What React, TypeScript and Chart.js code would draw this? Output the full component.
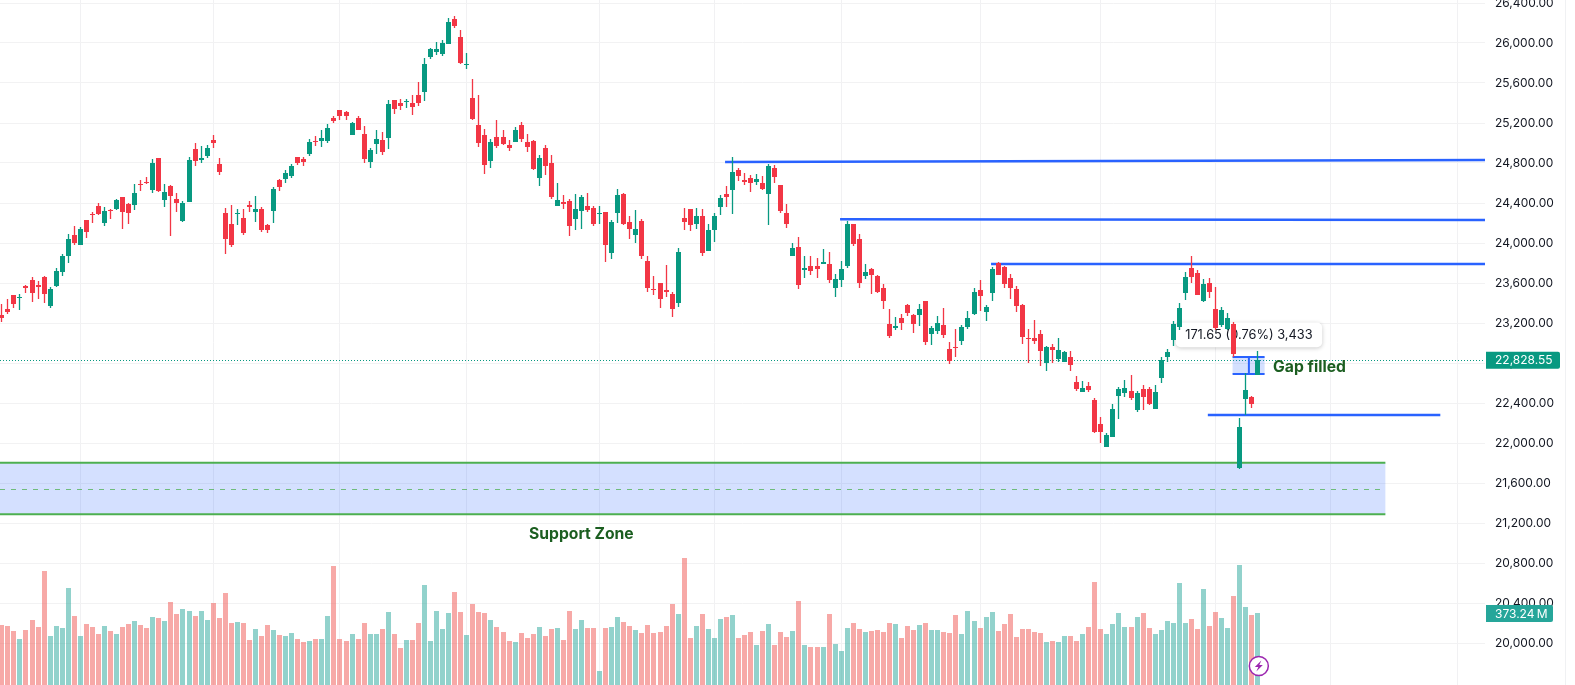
import React, { useEffect, useRef } from "react";
import { Chart, registerables } from "chart.js";

Chart.register(...registerables);

const opens = [
  23280,23340,23480,23450,23570,23630,23580,23660,23370,23570,
  23710,23870,24080,23980,24230,24290,24370,24200,24330,24340,
  24460,24390,24380,24590,24610,24530,24850,24430,24570,24440,
  24220,24410,24940,24830,24870,25030,24790,24300,24190,24290,
  24250,24380,24310,24340,24180,24320,24630,24640,24670,24860,
  24840,24890,25020,25020,25020,25250,25330,25310,25080,25250,
  25090,24810,24990,25030,25050,25430,25400,25410,25400,25480,
  25510,25860,25910,25890,25990,26240,26060,25780,25450,25180,
  25080,24820,25060,25060,24980,25010,25180,25010,25020,24650,
  24950,24800,24370,24410,24420,24240,24320,24370,24350,24290,
  24310,23900,24300,24490,24210,24080,24220,23820,23540,23600,
  23530,23490,23400,24250,24340,24190,24270,23920,24130,24360,
  24490,24530,24730,24630,24650,24610,24600,24490,24750,24580,
  24300,23870,23960,23730,23770,23770,23790,23790,23550,23630,
  23770,24190,24040,23670,23740,23670,23550,23190,23150,23250,
  23380,23280,23280,23420,23090,23120,23180,22940,22960,23020,
  23160,23290,23530,23310,23500,23800,23760,23650,23540,23380,
  23050,23050,23090,22800,22960,22840,22810,22860,22610,22510,
  22570,22430,22190,21960,22060,22470,22500,22520,22330,22540,
  22540,22340,22650,22860,23030,23160,23500,23750,23700,23420,
  23600,23340,23180,23140,23190,21750,22440,22460,22680,
];
const closes = [
  23250,23310,23390,23460,23550,23500,23560,23490,23540,23720,
  23870,24040,24000,24140,24110,24280,24290,24320,24320,24430,
  24310,24300,24500,24580,24600,24800,24520,24510,24470,24400,
  24400,24830,24820,24850,24950,25000,24710,24040,23980,24300,
  24100,24360,24340,24130,24130,24540,24560,24700,24770,24800,
  24810,25010,25010,25050,25150,25220,25270,25270,25200,25130,
  24840,24930,25040,24910,25390,25340,25370,25420,25360,25400,
  25790,25940,25940,26000,26210,26170,25800,25790,25240,25000,
  24780,25010,24970,24990,24950,25130,25040,24960,24740,24850,
  24770,24460,24430,24390,24170,24340,24460,24330,24190,24300,
  23980,24210,24480,24190,24140,24140,23870,23550,23530,23440,
  23510,23340,23910,24210,24180,24270,23900,24130,24270,24450,
  24460,24710,24670,24610,24600,24640,24540,24770,24660,24320,
  24190,23950,23580,23750,23720,23740,23810,23630,23640,23740,
  24190,23990,23600,23710,23680,23510,23420,23070,23170,23200,
  23300,23190,23340,23010,23150,23200,23080,22820,22950,23160,
  23250,23510,23470,23360,23740,23680,23590,23550,23370,23060,
  23040,23020,22920,22960,22930,22930,22910,22780,22540,22550,
  22530,22110,22110,22080,22340,22540,22550,22450,22500,22460,
  22390,22510,22830,22910,23190,23350,23660,23660,23480,23590,
  23510,23150,23330,23250,22890,22160,22530,22390,22828.55,
];
const highs = [
  23390,23440,23480,23490,23580,23660,23620,23670,23560,23750,
  23890,24090,24170,24160,24230,24310,24400,24360,24340,24440,
  24460,24400,24590,24630,24660,24840,24850,24590,24580,24500,
  24420,24860,25000,24970,24980,25080,24850,24350,24380,24340,
  24340,24420,24470,24360,24190,24560,24640,24730,24790,24860,
  24860,25040,25070,25130,25190,25270,25330,25320,25210,25270,
  25170,24950,25130,25110,25430,25430,25440,25440,25480,25610,
  25850,25950,26010,26030,26250,26270,26130,25900,25640,25480,
  25140,25040,25230,25130,25030,25160,25210,25090,25030,24880,
  24980,24880,24600,24480,24440,24490,24480,24500,24370,24370,
  24310,24230,24540,24500,24270,24330,24240,23870,23670,23600,
  23780,23510,23950,24350,24340,24350,24340,24190,24300,24480,
  24570,24860,24750,24700,24680,24690,24670,24790,24780,24580,
  24390,24000,24060,23870,23870,23850,23940,23910,23690,23820,
  24220,24190,24090,23790,23750,23680,23590,23340,23260,23290,
  23390,23290,23390,23420,23170,23270,23350,23010,23140,23180,
  23320,23550,23630,23380,23760,23810,23770,23690,23570,23390,
  23140,23230,23130,22970,22990,23050,22920,22920,22670,22620,
  22610,22450,22260,22100,22390,22560,22630,22680,22520,22580,
  22560,22580,22860,22940,23220,23400,23710,23870,23730,23640,
  23650,23560,23360,23300,23210,22250,22700,22470,22920,
];
const lows = [
  23210,23290,23350,23330,23500,23410,23440,23400,23350,23560,
  23670,23800,23980,23980,24050,24200,24280,24170,24240,24330,
  24140,24190,24330,24520,24590,24500,24510,24360,24070,24310,
  24210,24410,24770,24800,24850,24950,24680,23890,23960,24180,
  24080,24310,24210,24110,24100,24200,24520,24600,24650,24780,
  24770,24870,24970,24960,25000,25200,25230,25230,25080,25130,
  24800,24750,24890,24880,24940,25290,25330,25350,25280,25370,
  25420,25840,25880,25870,25990,26150,25790,25740,25230,24960,
  24690,24750,24950,24980,24920,25010,25010,24910,24730,24570,
  24680,24440,24370,24340,24070,24130,24140,24310,24170,24190,
  23810,23840,24200,24180,24040,24000,23840,23510,23480,23350,
  23460,23260,23360,24130,24120,24140,23870,23920,24010,24280,
  24360,24290,24620,24580,24510,24580,24530,24180,24600,24300,
  24150,23870,23540,23650,23680,23650,23790,23600,23460,23560,
  23750,23970,23550,23640,23490,23500,23340,23050,23130,23130,
  23270,23100,23170,22980,22980,23090,23050,22790,22860,22980,
  23140,23280,23320,23220,23420,23680,23550,23440,23310,22990,
  22800,22990,22770,22720,22800,22810,22810,22720,22520,22510,
  22510,22100,22000,21960,22060,22240,22460,22430,22310,22330,
  22380,22340,22600,22810,22970,23130,23430,23600,23480,23410,
  23450,23130,23160,23130,22860,21740,22280,22350,22680,
];
const volumes = [
  311,306,280,239,285,337,301,591,254,306,
  296,503,358,254,316,301,265,306,280,265,
  301,316,332,311,296,353,347,332,430,368,
  394,384,358,384,337,425,347,477,322,327,
  322,233,290,254,311,285,259,254,270,239,
  223,228,239,239,358,617,239,228,265,239,
  322,265,265,290,379,265,192,233,233,322,
  519,228,384,290,373,482,379,259,420,379,
  373,337,301,275,228,223,270,244,265,301,
  254,290,296,233,384,290,337,296,296,73,
  296,301,353,327,306,285,270,311,270,275,
  306,420,368,659,244,306,368,290,244,342,
  353,363,244,259,275,208,280,316,208,275,
  249,280,436,208,197,197,197,368,213,176,
  296,322,290,275,280,285,275,322,316,244,
  306,285,311,322,285,285,275,270,363,265,
  384,332,296,353,379,280,316,368,249,290,
  290,275,270,223,228,223,254,254,228,265,
  301,534,290,265,316,373,301,301,353,373,
  296,265,285,332,322,529,322,342,290,498,
  306,379,347,296,462,622,405,363,373.24,
];

const priceTicks = [20000,20400,20800,21200,21600,22000,22400,22800,23200,23600,24000,24400,24800,25200,25600,26000,26400];
const gridIndexes = [13,35,56,77,99,118,139,162,182,201,220,241];

const priceMin = 19580;
const priceMax = 26430;
const indexMin = -0.3;
const indexMax = 245.62;
const volumeMax = 3551;
const lastPrice = 22828.55;
const lastVolume = 373.24;

// Trend lines: [start index, start price, end index, end price]
const blueLines = [
  [119.77, 24810, 245.62, 24830],
  [138.82, 24237, 245.62, 24230],
  [163.82, 23790, 245.62, 23790],
  [199.72, 22280, 238.22, 22280],
];
const zoneStart = -0.3, zoneEnd = 229.12;
const zoneTop = 21803, zoneMid = 21545, zoneBottom = 21287;
const gapStart = 203.82, gapEnd = 209.12, gapMid = 206.52;
const gapTop = 22860, gapBottom = 22690;
const measureText = "171.65 (0.76%) 3,433";
const measureTop = 23205, measureBottom = 22958;
const gapLabel = "Gap filled";
const gapLabelAt = [210.52, 22753];
const zoneLabel = "Support Zone";
const zoneLabelAt = [87.3, 21090];

const RED = "#f23645";
const GREEN = "#089981";
const VOL_RED = "rgba(239,83,80,0.5)";
const VOL_GREEN = "rgba(38,166,154,0.5)";
const BLUE = "#2962ff";
const FONT = "Inter, Roboto, sans-serif";

const idx = opens.map((_, i) => i);
const isUp = idx.map((i) => closes[i] >= opens[i]);

const snapPlugin = {
  id: "snap",
  afterDatasetsUpdate(chart: any) {
    chart.data.datasets.forEach((_: any, d: number) => {
      chart.getDatasetMeta(d).data.forEach((el: any) => {
        el.x = Math.round(el.x - 0.5) + 0.5;
        el.y = Math.round(el.y);
        el.base = Math.round(el.base);
        if (el.y === el.base) el.base = el.y + 1;
      });
    });
  },
};

const annotationPlugin = {
  id: "annot",
  beforeDatasetsDraw(chart: any) {
    const { ctx, scales, chartArea } = chart;
    const X = (v: number) => scales.x.getPixelForValue(v);
    const Y = (v: number) => scales.y.getPixelForValue(v);
    ctx.save();

    // last price line
    ctx.strokeStyle = GREEN;
    ctx.lineWidth = 1;
    ctx.setLineDash([1, 2]);
    ctx.beginPath();
    ctx.moveTo(chartArea.left, Math.round(Y(lastPrice)) + 0.5);
    ctx.lineTo(chartArea.right, Math.round(Y(lastPrice)) + 0.5);
    ctx.stroke();
    ctx.setLineDash([]);

    // support zone
    ctx.fillStyle = "rgba(41,98,255,0.2)";
    ctx.fillRect(X(zoneStart), Y(zoneTop), X(zoneEnd) - X(zoneStart), Y(zoneBottom) - Y(zoneTop));
    ctx.strokeStyle = "#4caf50";
    ctx.lineWidth = 2;
    [zoneTop, zoneBottom].forEach((v) => {
      ctx.beginPath();
      ctx.moveTo(X(zoneStart), Y(v));
      ctx.lineTo(X(zoneEnd), Y(v));
      ctx.stroke();
    });
    ctx.lineWidth = 1;
    ctx.strokeStyle = "rgba(76,175,80,0.75)";
    ctx.setLineDash([5, 6]);
    ctx.beginPath();
    ctx.moveTo(X(zoneStart), Math.round(Y(zoneMid)) + 0.5);
    ctx.lineTo(X(zoneEnd), Math.round(Y(zoneMid)) + 0.5);
    ctx.stroke();
    ctx.setLineDash([]);

    // trend lines
    ctx.strokeStyle = BLUE;
    ctx.lineWidth = 2.4;
    blueLines.forEach(([a, b, c, d]) => {
      ctx.beginPath();
      ctx.moveTo(X(a), Y(b));
      ctx.lineTo(X(c), Y(d));
      ctx.stroke();
    });

    // measure box
    ctx.fillStyle = "rgba(41,98,255,0.2)";
    ctx.fillRect(X(gapStart), Y(gapTop), X(gapEnd) - X(gapStart), Y(gapBottom) - Y(gapTop));
    ctx.lineWidth = 2;
    [gapTop, gapBottom].forEach((v) => {
      ctx.beginPath();
      ctx.moveTo(X(gapStart), Y(v));
      ctx.lineTo(X(gapEnd), Y(v));
      ctx.stroke();
    });
    ctx.beginPath();
    ctx.moveTo(X(gapMid), Y(gapTop));
    ctx.lineTo(X(gapMid), Y(gapBottom));
    ctx.stroke();

    // measure label
    ctx.font = `12.8px ${FONT}`;
    const w = ctx.measureText(measureText).width + 19;
    const left = X(gapMid) - w / 2;
    ctx.save();
    ctx.shadowColor = "rgba(0,0,0,0.22)";
    ctx.shadowBlur = 4;
    ctx.shadowOffsetY = 1;
    ctx.fillStyle = "#ffffff";
    ctx.beginPath();
    ctx.roundRect(left, Y(measureTop), w, Y(measureBottom) - Y(measureTop), 5);
    ctx.fill();
    ctx.restore();
    ctx.fillStyle = "#131722";
    ctx.textAlign = "left";
    ctx.textBaseline = "middle";
    ctx.fillText(measureText, left + 9.5, (Y(measureTop) + Y(measureBottom)) / 2 + 0.5);

    // labels
    ctx.fillStyle = "#1b5e20";
    ctx.font = `bold 15.7px ${FONT}`;
    ctx.fillText(gapLabel, X(gapLabelAt[0]), Y(gapLabelAt[1]));
    ctx.fillText(zoneLabel, X(zoneLabelAt[0]), Y(zoneLabelAt[1]));
    ctx.restore();
  },
  afterDraw(chart: any) {
    const { ctx, scales, chartArea, width, height } = chart;
    const Y = (v: number) => scales.y.getPixelForValue(v);
    const Yv = (v: number) => scales.y2.getPixelForValue(v);
    const lastX = scales.x.getPixelForValue(idx[idx.length - 1]);
    ctx.save();

    // axis outer border
    ctx.fillStyle = "#f0f1f3";
    ctx.fillRect(width - 10, 0, 1, height);

    const tag = (cy: number, w: number, color: string, text: string) => {
      ctx.fillStyle = color;
      ctx.beginPath();
      ctx.roundRect(chartArea.right + 1, cy - 8.5, w, 17, [0, 2, 2, 0]);
      ctx.fill();
      ctx.fillStyle = "#ffffff";
      ctx.font = `12px ${FONT}`;
      ctx.textAlign = "left";
      ctx.textBaseline = "middle";
      ctx.fillText(text, chartArea.right + 10, cy + 0.5);
    };
    tag(Y(lastPrice), 74, GREEN, lastPrice.toLocaleString("en-US"));
    tag(Yv(lastVolume) + 0.5, 67, "#26a69a", `${lastVolume}\u2009M`);

    // lightning icon
    const cx = lastX + 1;
    const cy = chartArea.bottom - 19;
    ctx.beginPath();
    ctx.arc(cx, cy, 9.5, 0, Math.PI * 2);
    ctx.fillStyle = "#ffffff";
    ctx.fill();
    ctx.lineWidth = 1.5;
    ctx.strokeStyle = "#9c27b0";
    ctx.stroke();
    ctx.fillStyle = "#9c27b0";
    ctx.beginPath();
    ctx.moveTo(cx + 2.5, cy - 5.5);
    ctx.lineTo(cx - 4, cy + 1);
    ctx.lineTo(cx - 0.5, cy + 1);
    ctx.lineTo(cx - 2.5, cy + 5.5);
    ctx.lineTo(cx + 4, cy - 1);
    ctx.lineTo(cx + 0.5, cy - 1);
    ctx.closePath();
    ctx.fill();
    ctx.restore();
  },
};

export default function App() {
  const ref = useRef<HTMLCanvasElement>(null);
  useEffect(() => {
    const chart = new Chart(ref.current as HTMLCanvasElement, {
      type: "bar",
      data: {
        datasets: [
          {
            label: "Body",
            data: idx.map((i) => ({ x: i, y: [opens[i], closes[i]] })),
            backgroundColor: idx.map((i) => (isUp[i] ? GREEN : RED)),
            barThickness: 5,
            grouped: false,
            borderWidth: 0,
            inflateAmount: 0,
            yAxisID: "y",
          },
          {
            label: "Wick",
            data: idx.map((i) => ({ x: i, y: [lows[i], highs[i]] })),
            backgroundColor: idx.map((i) => (isUp[i] ? GREEN : RED)),
            barThickness: 1.3,
            grouped: false,
            borderWidth: 0,
            inflateAmount: 0,
            yAxisID: "y",
          },
          {
            label: "Volume",
            data: idx.map((i) => ({ x: i, y: volumes[i] })),
            backgroundColor: idx.map((i) => (isUp[i] ? VOL_GREEN : VOL_RED)),
            barThickness: 5,
            grouped: false,
            borderWidth: 0,
            inflateAmount: 0,
            yAxisID: "y2",
          },
        ],
      } as any,
      options: {
        responsive: false,
        devicePixelRatio: 1,
        animation: false,
        layout: { padding: 0 },
        events: [],
        plugins: { legend: { display: false }, tooltip: { enabled: false } },
        scales: {
          x: {
            type: "linear",
            min: indexMin,
            max: indexMax,
            offset: false,
            border: { display: false },
            grid: { color: "#f1f1f3", offset: false, drawTicks: false, lineWidth: 1 },
            ticks: { display: false, autoSkip: false },
            afterBuildTicks: (s: any) => {
              s.ticks = gridIndexes.map((value) => ({ value }));
            },
            afterFit: (s: any) => {
              s.height = 0;
              s.paddingLeft = 0;
              s.paddingRight = 0;
            },
          },
          y: {
            type: "linear",
            position: "right",
            min: priceMin,
            max: priceMax,
            border: { display: false },
            grid: { color: "#f2f2f3", drawTicks: false, lineWidth: 1 },
            ticks: {
              padding: 10,
              color: "#131722",
              font: { family: FONT, size: 12 },
              autoSkip: false,
              callback: (v: any) =>
                Number(v).toLocaleString("en-US", { minimumFractionDigits: 2, maximumFractionDigits: 2 }),
            },
            afterBuildTicks: (s: any) => {
              s.ticks = priceTicks.map((value) => ({ value }));
            },
            afterFit: (s: any) => {
              s.width = 90;
              s.paddingTop = 0;
              s.paddingBottom = 0;
            },
          },
          y2: {
            type: "linear",
            display: false,
            min: 0,
            max: volumeMax,
          },
        },
      } as any,
      plugins: [snapPlugin, annotationPlugin] as any,
    });
    return () => chart.destroy();
  }, []);
  return (
    <canvas
      ref={ref}
      width={1575}
      height={685}
      style={{ position: "absolute", left: 0, top: 0, display: "block" }}
    />
  );
}
